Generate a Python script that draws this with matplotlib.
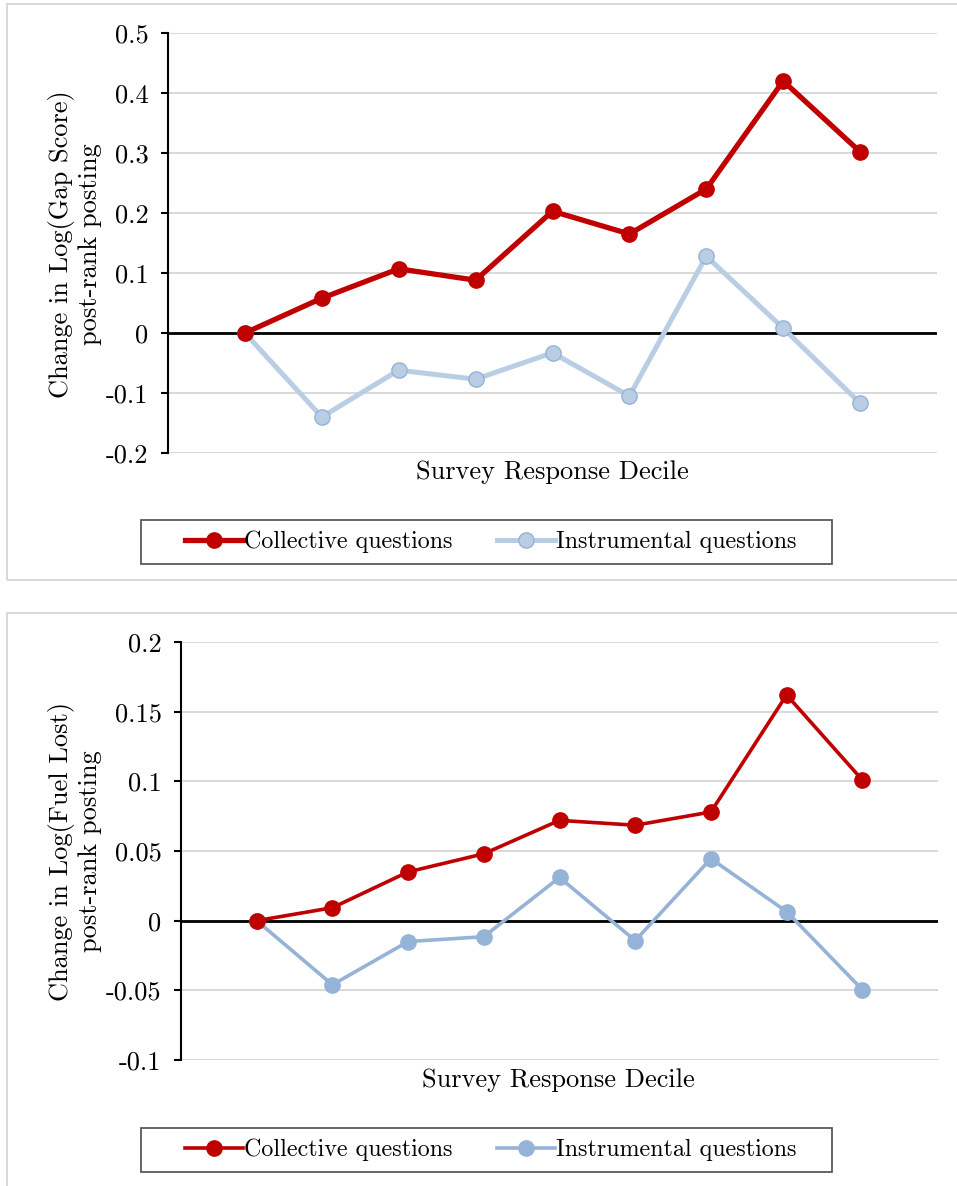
import matplotlib
matplotlib.use("Agg")
import matplotlib.pyplot as plt
from matplotlib.patches import Rectangle

plt.rcParams['font.family'] = ['cmr10', 'DejaVu Serif']
plt.rcParams['axes.unicode_minus'] = False

# decile positions (1..9) and the two panels' estimates
deciles = [1, 2, 3, 4, 5, 6, 7, 8, 9]

gap_collective = [0.0, 0.058, 0.107, 0.088, 0.203, 0.165, 0.240, 0.420, 0.302]
gap_instrumental = [0.0, -0.140, -0.062, -0.077, -0.033, -0.105, 0.128, 0.008, -0.117]

fuel_collective = [0.0, 0.0093, 0.035, 0.048, 0.072, 0.0685, 0.078, 0.162, 0.101]
fuel_instrumental = [0.0, -0.046, -0.015, -0.0115, 0.031, -0.0143, 0.0445, 0.0065, -0.0495]

gap_ticks = [-0.2, -0.1, 0, 0.1, 0.2, 0.3, 0.4, 0.5]
gap_ticklabels = ["-0.2", "-0.1", "0", "0.1", "0.2", "0.3", "0.4", "0.5"]
fuel_ticks = [-0.1, -0.05, 0, 0.05, 0.1, 0.15, 0.2]
fuel_ticklabels = ["-0.1", "-0.05", "0", "0.05", "0.1", "0.15", "0.2"]

RED = "#c00000"
BLUE_LIGHT = "#b9cde5"
BLUE_EDGE = "#95b3d7"
FS = 19
LEG_FS = 17.3

W, H = 957, 1186
fig = plt.figure(figsize=(W / 100, H / 100), dpi=100)


def px_axes(left, top, right, bottom):
    return fig.add_axes([left / W, 1 - bottom / H, (right - left) / W, (bottom - top) / H])


def px_box(left, top, right, bottom, color, lw):
    fig.add_artist(Rectangle((left / W, 1 - bottom / H), (right - left) / W, (bottom - top) / H,
                             transform=fig.transFigure, fill=False, edgecolor=color,
                             linewidth=lw))


def style_axes(ax, ticks, labels, lo, hi):
    ax.set_xlim(0, 10)
    ax.set_ylim(lo, hi)
    ax.set_yticks(ticks)
    ax.set_yticklabels(labels)
    ax.set_xticks([])
    for side in ["top", "right", "bottom"]:
        ax.spines[side].set_visible(False)
    ax.spines["left"].set_linewidth(1.5)
    ax.tick_params(axis="y", direction="out", length=5, width=1.5, pad=9, labelsize=FS)
    ax.yaxis.grid(True, color="#d9d9d9", linewidth=1.4)
    ax.set_axisbelow(True)
    ax.axhline(0, color="black", linewidth=2.0, zorder=2)


def add_legend(ax, top, bottom):
    # frame drawn separately so the side padding can be wider than the top/bottom
    px_box(141, top, 832, bottom, "#595959", 1.3)
    handles, labels = ax.get_legend_handles_labels()
    fig.legend(handles, labels, loc="center", bbox_to_anchor=(491 / W, 1 - (top + bottom) / 2 / H),
               ncol=2, fontsize=LEG_FS, frameon=False, handlelength=2.4, columnspacing=1.85,
               handletextpad=0.05, borderpad=0, borderaxespad=0)


# panel frames
px_box(7, 4, 967, 580, "#d9d9d9", 1.5)
px_box(7, 613, 967, 1190, "#d9d9d9", 1.5)

# Gap score panel
ax1 = px_axes(168, 33, 937, 453)
style_axes(ax1, gap_ticks, gap_ticklabels, -0.2, 0.5)
ax1.plot(deciles, gap_collective, color=RED, linewidth=3.8, marker="o", markersize=11,
         markerfacecolor=RED, markeredgecolor=RED, zorder=4, label="Collective questions")
ax1.plot(deciles, gap_instrumental, color=BLUE_LIGHT, linewidth=3.6, marker="o", markersize=11,
         markerfacecolor=BLUE_LIGHT, markeredgecolor=BLUE_EDGE, markeredgewidth=1.0, zorder=3,
         label="Instrumental questions")
fig.text(75 / W, 1 - 244 / H, "Change in Log(Gap Score)\npost-rank posting", rotation=90,
         ha="center", va="center", multialignment="center", fontsize=FS, linespacing=1.2)
fig.text(552 / W, 1 - 472 / H, "Survey Response Decile", ha="center", va="center", fontsize=FS)
add_legend(ax1, 520, 564)

# Fuel lost panel
ax2 = px_axes(181, 642, 938, 1060)
style_axes(ax2, fuel_ticks, fuel_ticklabels, -0.1, 0.2)
ax2.plot(deciles, fuel_collective, color=RED, linewidth=2.6, marker="o", markersize=11,
         markerfacecolor=RED, markeredgecolor=RED, zorder=4, label="Collective questions")
ax2.plot(deciles, fuel_instrumental, color=BLUE_EDGE, linewidth=2.6, marker="o", markersize=11,
         markerfacecolor=BLUE_EDGE, markeredgecolor=BLUE_EDGE, zorder=3,
         label="Instrumental questions")
fig.text(75 / W, 1 - 851 / H, "Change in Log(Fuel Lost)\npost-rank posting", rotation=90,
         ha="center", va="center", multialignment="center", fontsize=FS, linespacing=1.2)
fig.text(558 / W, 1 - 1080 / H, "Survey Response Decile", ha="center", va="center", fontsize=FS)
add_legend(ax2, 1128, 1172)

fig.savefig("out.png", dpi=100, facecolor="white")
